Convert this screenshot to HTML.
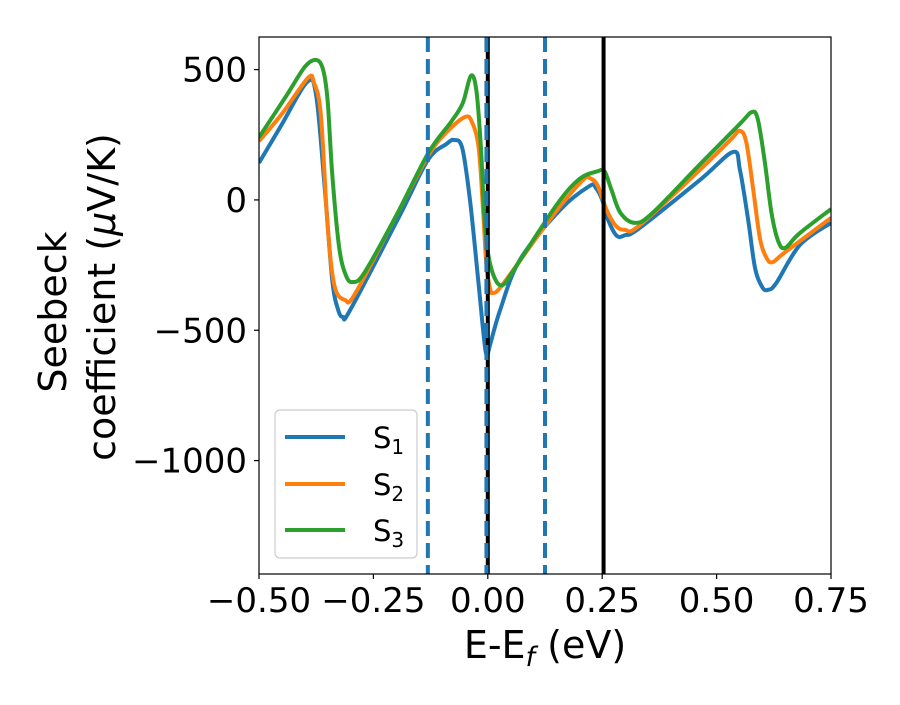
<!DOCTYPE html>
<html><head><meta charset="utf-8"><style>
body{margin:0;background:#fff;}
svg text{font-family:"DejaVu Sans","Liberation Sans",sans-serif;fill:#000;}
</style></head><body>
<svg id="chart" width="900" height="700" xmlns="http://www.w3.org/2000/svg">
<rect width="900" height="700" fill="#fff"/>
<g id="lines"></g>
<g id="axes"></g>
</svg>
<script>
const xTicks=[-0.5,-0.25,0,0.25,0.5,0.75];
const xTickLabels=["\u22120.50","\u22120.25","0.00","0.25","0.50","0.75"];
const yTicks=[500,0,-500,-1000];
const yTickLabels=["500","0","\u2212500","\u22121000"];
const dashedLines=[-0.131,-0.003,0.125];
const solidLines=[0,0.253];
const s1X=[-0.5,-0.45,-0.395,-0.375,-0.356,-0.340,-0.327,-0.316,-0.30,-0.192,-0.131,-0.09,-0.074,-0.056,-0.039,-0.021,-0.008,-0.002,0.005,0.027,0.070,0.158,0.223,0.236,0.250,0.263,0.282,0.300,0.33,0.464,0.536,0.551,0.569,0.584,0.600,0.612,0.630,0.682,0.75];
const s1Y=[142,290,452,400,38,-307,-422,-449,-420,-58,153,215,230,200,0,-307,-537,-595,-556,-422,-230,-38,54,46,0,-77,-138,-135,-110,77,184,115,-77,-261,-335,-345,-320,-173,-88];
const s2X=[-0.5,-0.45,-0.393,-0.38,-0.365,-0.35,-0.335,-0.312,-0.29,-0.2,-0.13,-0.09,-0.05,-0.035,-0.02,-0.01,-0.003,0.005,0.011,0.03,0.1,0.16,0.21,0.223,0.24,0.26,0.28,0.30,0.33,0.46,0.53,0.551,0.565,0.58,0.595,0.61,0.623,0.65,0.75];
const s2Y=[225,330,468,450,330,-100,-330,-384,-360,-60,170,260,318,300,200,-50,-250,-340,-357,-330,-160,-20,80,84,55,-40,-100,-115,-100,110,230,265,220,40,-150,-225,-238,-200,-69];
const s3X=[-0.5,-0.44,-0.4,-0.375,-0.36,-0.35,-0.34,-0.325,-0.31,-0.295,-0.27,-0.2,-0.13,-0.08,-0.055,-0.037,-0.025,-0.015,-0.008,0.0,0.015,0.033,0.06,0.15,0.2,0.24,0.255,0.27,0.29,0.322,0.36,0.46,0.55,0.577,0.59,0.605,0.62,0.635,0.65,0.68,0.75];
const s3Y=[240,400,510,537,500,380,100,-180,-290,-315,-280,-60,180,300,370,476,420,200,-50,-200,-300,-326,-260,-20,80,110,110,40,-50,-88,-50,130,290,337,310,150,-50,-160,-184,-130,-35];
const series=[{sub:"1",xs:s1X,ys:s1Y,c:"#1f77b4"},{sub:"2",xs:s2X,ys:s2Y,c:"#ff7f0e"},{sub:"3",xs:s3X,ys:s3Y,c:"#2ca02c"}];
const L=259,R=831,T=37,B=574;
const xMin=-0.5,xMax=0.75,yMin=-1435,yMax=625;
const sx=v=>L+(v-xMin)/(xMax-xMin)*(R-L);
const sy=v=>B-(v-yMin)/(yMax-yMin)*(B-T);
const NS="http://www.w3.org/2000/svg";
function mk(tag,attrs,parent){const e=document.createElementNS(NS,tag);for(const k in attrs)e.setAttribute(k,attrs[k]);parent.appendChild(e);return e;}
const lines=document.getElementById('lines'),axes=document.getElementById('axes');
const clip=mk('clipPath',{id:'pc'},lines);mk('rect',{x:L,y:T,width:R-L,height:B-T},clip);
function pathFrom(xs,ys){const p=xs.map((x,i)=>[sx(x),sy(ys[i])]);let d=`M${p[0][0]},${p[0][1]}`;
for(let i=0;i<p.length-1;i++){const p0=p[Math.max(0,i-1)],p1=p[i],p2=p[i+1],p3=p[Math.min(p.length-1,i+2)];
const c1=[p1[0]+(p2[0]-p0[0])/6,p1[1]+(p2[1]-p0[1])/6],c2=[p2[0]-(p3[0]-p1[0])/6,p2[1]-(p3[1]-p1[1])/6];
d+=`C${c1[0]},${c1[1]} ${c2[0]},${c2[1]} ${p2[0]},${p2[1]}`;}return d;}
const g=mk('g',{'clip-path':'url(#pc)'},lines);
series.forEach((s,i)=>{const e=mk('path',{d:pathFrom(s.xs,s.ys),fill:'none',stroke:s.c,'stroke-width':4,'stroke-linejoin':'round'},g);

});
solidLines.forEach((v,i)=>{const e=mk('line',{x1:sx(v),x2:sx(v),y1:T,y2:B,stroke:'#000','stroke-width':4},g);

});
dashedLines.forEach((v,i)=>{const e=mk('line',{x1:sx(v),x2:sx(v),y1:T,y2:B,stroke:'#1f77b4','stroke-width':4,'stroke-dasharray':'15 7'},g);

});
const fr=mk('rect',{x:L,y:T,width:R-L,height:B-T,fill:'none',stroke:'#000','stroke-width':1.2},axes);


xTicks.forEach((v,i)=>{mk('line',{x1:sx(v),x2:sx(v),y1:B,y2:B+5,stroke:'#000','stroke-width':1.2},axes);
const t=mk('text',{x:sx(v),y:B+38,'text-anchor':'middle','font-size':34},axes);t.textContent=xTickLabels[i];

});
yTicks.forEach((v,i)=>{mk('line',{x1:L-5,x2:L,y1:sy(v),y2:sy(v),stroke:'#000','stroke-width':1.2},axes);
const t=mk('text',{x:L-12,y:sy(v)+12,'text-anchor':'end','font-size':34},axes);t.textContent=yTickLabels[i];

});
</script>
<svg style="position:absolute;left:0;top:0" width="900" height="700">
<text x="545" y="658" text-anchor="middle" font-size="38">E-E<tspan font-size="27" dy="8" font-style="italic">f</tspan><tspan dy="-8"> (eV)</tspan></text>
<g font-size="38">
<text transform="translate(66,312) rotate(-90)" text-anchor="middle">Seebeck</text>
<text transform="translate(115,297) rotate(-90)" text-anchor="middle">coefficient  (<tspan font-style="italic">μ</tspan>V/K)</text>
</g>
<g>
<rect x="275" y="410" width="142" height="148" rx="5" fill="#fff" fill-opacity="0.85" stroke="#ccc" stroke-width="1.2"/>
<line x1="285" x2="345" y1="437" y2="437" stroke="#1f77b4" stroke-width="4"/>
<text x="373" y="448" font-size="29">S<tspan font-size="20" dy="6">1</tspan></text>
<line x1="285" x2="345" y1="484" y2="484" stroke="#ff7f0e" stroke-width="4"/>
<text x="373" y="495" font-size="29">S<tspan font-size="20" dy="6">2</tspan></text>
<line x1="285" x2="345" y1="530" y2="530" stroke="#2ca02c" stroke-width="4"/>
<text x="373" y="541" font-size="29">S<tspan font-size="20" dy="6">3</tspan></text>
</g>
</svg>
</body></html>
